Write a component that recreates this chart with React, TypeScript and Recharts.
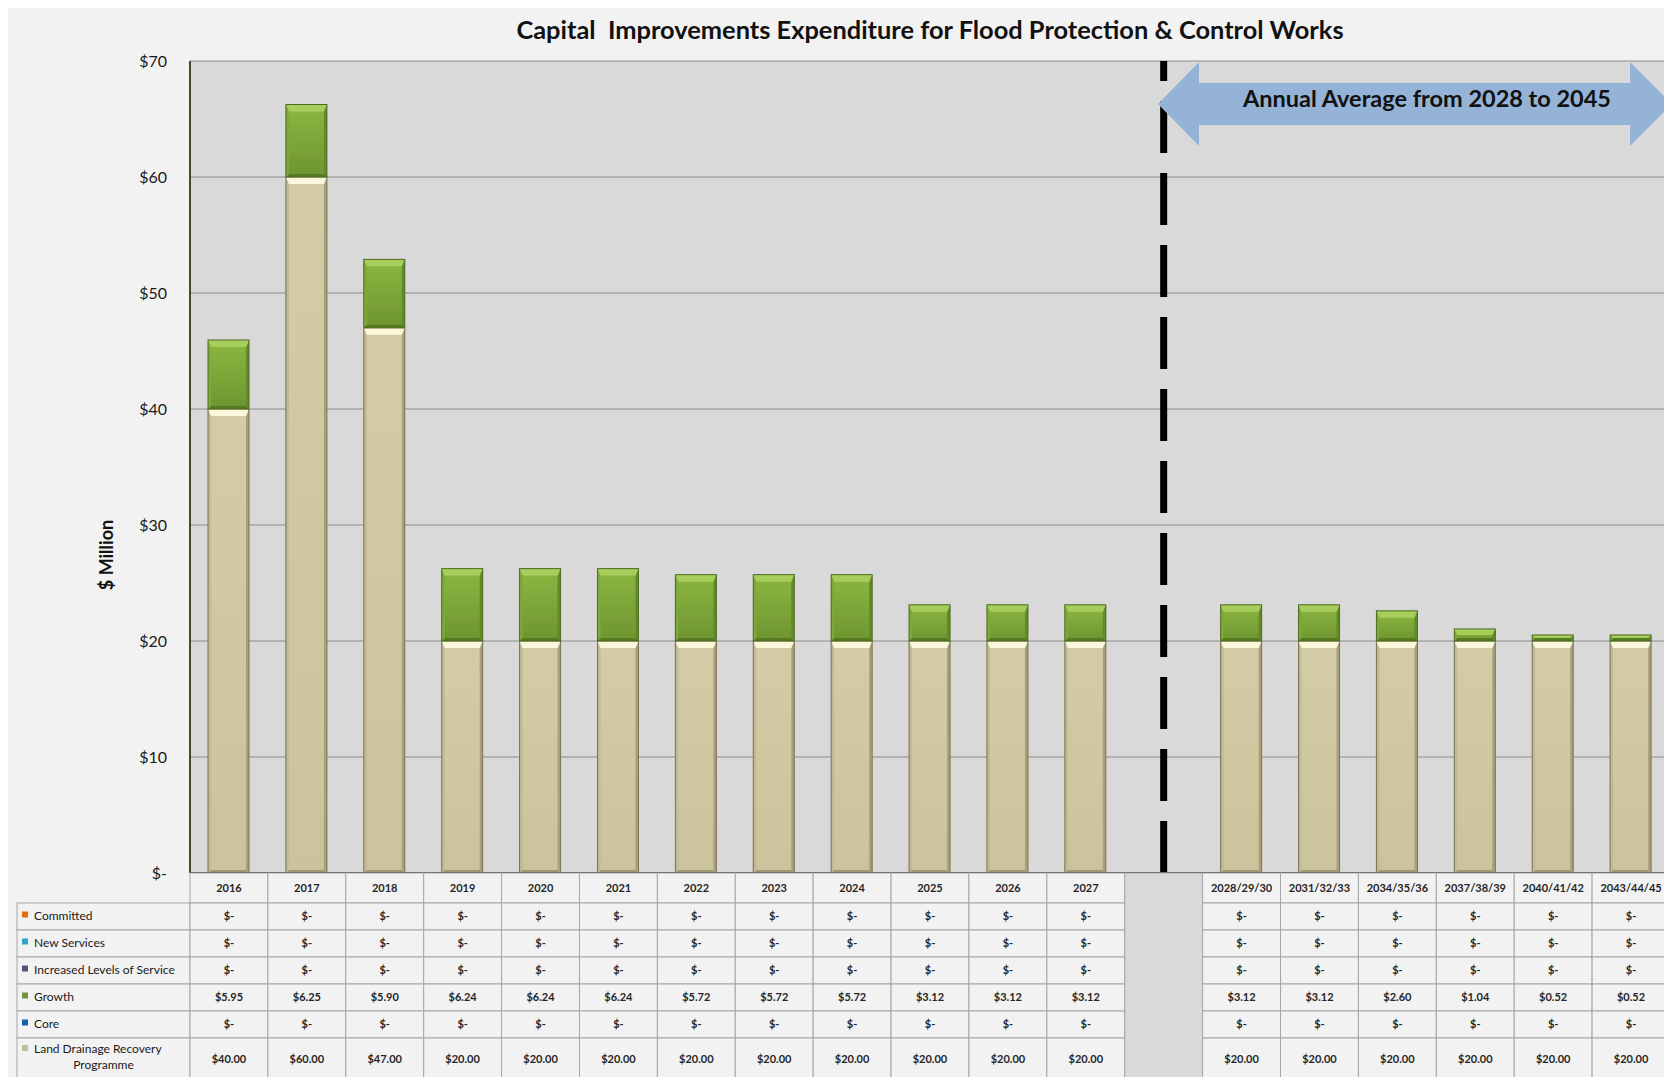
import { BarChart, Bar, XAxis, YAxis, CartesianGrid, ReferenceLine, Label } from "recharts";

const categories = [
  "2016", "2017", "2018", "2019", "2020", "2021", "2022", "2023", "2024", "2025", "2026", "2027",
  "gap",
  "2028/29/30", "2031/32/33", "2034/35/36", "2037/38/39", "2040/41/42", "2043/44/45",
];
const committed = [0, 0, 0, 0, 0, 0, 0, 0, 0, 0, 0, 0, null, 0, 0, 0, 0, 0, 0];
const newServices = [0, 0, 0, 0, 0, 0, 0, 0, 0, 0, 0, 0, null, 0, 0, 0, 0, 0, 0];
const increasedLos = [0, 0, 0, 0, 0, 0, 0, 0, 0, 0, 0, 0, null, 0, 0, 0, 0, 0, 0];
const growth = [5.95, 6.25, 5.9, 6.24, 6.24, 6.24, 5.72, 5.72, 5.72, 3.12, 3.12, 3.12, null, 3.12, 3.12, 2.6, 1.04, 0.52, 0.52];
const core = [0, 0, 0, 0, 0, 0, 0, 0, 0, 0, 0, 0, null, 0, 0, 0, 0, 0, 0];
const landDrainage = [40, 60, 47, 20, 20, 20, 20, 20, 20, 20, 20, 20, null, 20, 20, 20, 20, 20, 20];
const yTicks = [0, 10, 20, 30, 40, 50, 60, 70];

const GAP = "gap";
const FONT = "Lato, 'Open Sans', sans-serif";

const data = categories.map((name, i) => ({
  name,
  land: landDrainage[i],
  growth: growth[i],
}));

const tableRows = [
  { label: "Committed", color: "#e46c0a", values: committed },
  { label: "New Services", color: "#31a5c4", values: newServices },
  { label: "Increased Levels  of Service", color: "#604a7b", values: increasedLos },
  { label: "Growth", color: "#77933c", values: growth },
  { label: "Core", color: "#0a62b0", values: core },
  { label: "Land Drainage Recovery", label2: "Programme", color: "#c4bd97", values: landDrainage },
];

// row edges below the axis (header first)
const rowEdges = [0, 30, 57, 84, 111, 138, 165, 215];

const CHART_W = 1664;
const CHART_H = 1069;
const PLOT_LEFT = 182;
const PLOT_W = 1480;
const SLOT = PLOT_W / categories.length;

const money = (v: number | null) => (v === null ? "" : v === 0 ? "$-" : `$${v.toFixed(2)}`);

function TableTick(props: any) {
  const { x, y, payload, index } = props;
  const left = x - SLOT / 2;
  const bottom = y + rowEdges[rowEdges.length - 1];
  const cells: any[] = [];

  if (index === 0) {
    tableRows.forEach((r, ri) => {
      const top = y + rowEdges[ri + 1];
      const h = rowEdges[ri + 2] - rowEdges[ri + 1];
      cells.push(
        <rect key={`l${ri}`} x={9} y={top} width={left - 9} height={h} fill="#f2f2f2" stroke="#a6a6a6" strokeWidth={1} />
      );
      const ty = r.label2 ? top + 12 : top + h / 2;
      cells.push(<rect key={`s${ri}`} x={14} y={ty - 5} width={6} height={6} fill={r.color} />);
      cells.push(
        <text key={`t${ri}`} x={26} y={ty} fontSize={12} fill="#1a1a1a" fontFamily={FONT} dominantBaseline="middle">
          {r.label}
        </text>
      );
      if (r.label2) {
        cells.push(
          <text key={`t2${ri}`} x={(9 + left) / 2} y={ty + 16} fontSize={12} fill="#1a1a1a" fontFamily={FONT} textAnchor="middle" dominantBaseline="middle">
            {r.label2}
          </text>
        );
      }
    });
  }

  if (payload.value === GAP) {
    cells.push(<rect key="gap" x={left} y={y} width={SLOT} height={bottom - y} fill="#d9d9d9" stroke="#a6a6a6" strokeWidth={1} />);
    return <g>{cells}</g>;
  }

  cells.push(<rect key="h" x={left} y={y} width={SLOT} height={rowEdges[1]} fill="#f2f2f2" stroke="#a6a6a6" strokeWidth={1} />);
  cells.push(
    <text key="ht" x={x} y={y + rowEdges[1] / 2 + 1} fontSize={11} fontWeight={700} fill="#262626" fontFamily={FONT} textAnchor="middle" dominantBaseline="middle">
      {payload.value}
    </text>
  );
  tableRows.forEach((r, ri) => {
    const top = y + rowEdges[ri + 1];
    const h = rowEdges[ri + 2] - rowEdges[ri + 1];
    const v = r.values[index];
    cells.push(<rect key={`c${ri}`} x={left} y={top} width={SLOT} height={h} fill="#f2f2f2" stroke="#a6a6a6" strokeWidth={1} />);
    cells.push(
      <text key={`v${ri}`} x={x} y={ri === 5 ? top + 22 : top + h / 2 + 1} fontSize={11} fontWeight={700} fill="#262626" fontFamily={FONT} textAnchor="middle" dominantBaseline="middle">
        {money(v)}
      </text>
    );
  });
  return <g>{cells}</g>;
}

function bevelShape(face: [string, string], light: string, sideL: string, sideR: string, dark: string, edge: string, id: string) {
  return (props: any) => {
    const { x, y, width: w, height: h } = props;
    if (!h || h <= 0) return null;
    const t = Math.min(7, h / 2);
    const s = Math.min(3, h / 2);
    const b = Math.min(3, h / 2);
    return (
      <g>
        <defs>
          <linearGradient id={id} x1="0" y1="0" x2="0" y2="1">
            <stop offset="0%" stopColor={face[0]} />
            <stop offset="100%" stopColor={face[1]} />
          </linearGradient>
        </defs>
        <rect x={x} y={y} width={w} height={h} fill={`url(#${id})`} />
        <polygon points={`${x},${y + h} ${x + s},${y + h - b} ${x + w - s},${y + h - b} ${x + w},${y + h}`} fill={dark} />
        <polygon points={`${x},${y} ${x + s},${y + t} ${x + s},${y + h - b} ${x},${y + h}`} fill={sideL} />
        <polygon points={`${x + w},${y} ${x + w},${y + h} ${x + w - s},${y + h - b} ${x + w - s},${y + t}`} fill={sideR} />
        <polygon points={`${x},${y} ${x + w},${y} ${x + w - s},${y + t} ${x + s},${y + t}`} fill={light} />
        <rect x={x} y={y} width={w} height={h} fill="none" stroke={edge} strokeWidth={1} />
      </g>
    );
  };
}

const landShape = bevelShape(["#d3cca6", "#cbc39b"], "#fbf7da", "#c2ba92", "#a9a07a", "#9f9773", "#7a7252", "landGrad");
const growthShape = bevelShape(["#8cb742", "#6e9530"], "#a7cd5a", "#7fa83a", "#628a28", "#557a20", "#4f6b25", "growthGrad");

export default function App() {
  return (
    <div
      style={{
        position: "fixed",
        left: 8,
        top: 8,
        width: CHART_W - 8,
        height: CHART_H,
        overflow: "hidden",
        background: "#f2f2f2",
        fontFamily: FONT,
      }}
    >
      <div
        style={{
          position: "absolute",
          left: 0,
          width: 1844,
          top: 6,
          textAlign: "center",
          fontSize: 25.4,
          fontWeight: 700,
          color: "#111",
          whiteSpace: "pre",
        }}
      >
        {"Capital  Improvements Expenditure for Flood Protection & Control Works"}
      </div>
      <BarChart
        width={CHART_W}
        height={CHART_H}
        data={data}
        barSize={41}
        margin={{ top: 53, right: 2, left: 0, bottom: 0 }}
        style={{ position: "absolute", left: 0, top: 0 }}
      >
        <CartesianGrid horizontal vertical={false} stroke="#8c8c8c" fill="#d9d9d9" />
        <XAxis
          dataKey="name"
          interval={0}
          height={204}
          tickLine={false}
          tickSize={0}
          tickMargin={0}
          axisLine={{ stroke: "#4d4530", strokeWidth: 2 }}
          tick={TableTick}
        />
        <YAxis
          width={PLOT_LEFT}
          domain={[0, 70]}
          ticks={yTicks}
          interval={0}
          tickLine={false}
          tickSize={0}
          tickMargin={23}
          axisLine={{ stroke: "#4d4530", strokeWidth: 2 }}
          tick={{ fill: "#1a1a1a", fontSize: 16, fontFamily: FONT }}
          tickFormatter={(v: number) => (v === 0 ? "$-" : `$${v}`)}
        >
          <Label
            content={() => (
              <text x={100} y={547} transform="rotate(-90 100 547)" textAnchor="middle" dominantBaseline="middle" fontSize={18} fontWeight={700} fill="#111" fontFamily={FONT}>
                $ Million
              </text>
            )}
          />
        </YAxis>
        <Bar dataKey="land" stackId="a" shape={landShape} isAnimationActive={false} />
        <Bar dataKey="growth" stackId="a" shape={growthShape} isAnimationActive={false} />
        <ReferenceLine x={GAP} stroke="#000" strokeWidth={7} strokeDasharray="52 20" />
      </BarChart>
      <svg width={CHART_W} height={160} style={{ position: "absolute", left: 0, top: 0 }}>
        <polygon
          points="1150,96 1191,54 1191,75 1622,75 1622,54 1664,96 1622,138 1622,117 1191,117 1191,138"
          fill="#95b3d7"
        />
        <text x={1419} y={93} textAnchor="middle" dominantBaseline="middle" fontSize={23.5} fontWeight={700} fill="#111" fontFamily={FONT}>
          Annual Average from 2028 to 2045
        </text>
      </svg>
    </div>
  );
}
